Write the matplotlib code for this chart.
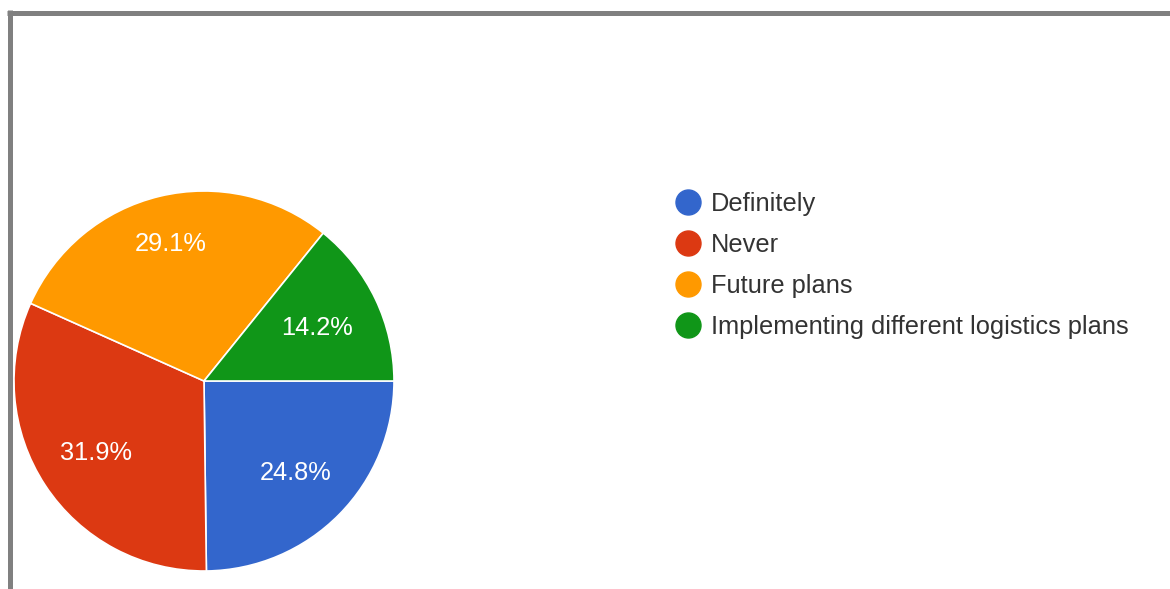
import numpy as np
import matplotlib.pyplot as plt
from matplotlib.lines import Line2D

# survey answers
labels = ["Definitely", "Never", "Future plans", "Implementing different logistics plans"]
shares = [24.8, 31.9, 29.1, 14.2]
colors = ["#3366cc", "#dc3912", "#ff9900", "#109618"]
label_dist = [0.68, 0.68, 0.75, 0.66]

W, H = 1170, 589
fig = plt.figure(figsize=(W / 100, H / 100), dpi=100)
ax = fig.add_axes([0, 0, 1, 1])
ax.set_axis_off()

wedges, _ = ax.pie(shares, colors=colors, startangle=0, counterclock=False,
                   center=(204, H - 381), radius=190,
                   wedgeprops=dict(edgecolor="white", linewidth=1.2))
ax.set_xlim(0, W)
ax.set_ylim(0, H)
ax.set_aspect("auto")

# percentage labels along each slice's middle angle
for w, v, d in zip(wedges, shares, label_dist):
    mid = np.deg2rad((w.theta1 + w.theta2) / 2)
    cx, cy = w.center
    ax.text(cx + d * w.r * np.cos(mid), cy + d * w.r * np.sin(mid) - 1.5, f"{v}%",
            ha="center", va="center", color="white", fontsize=18.3,
            family="Liberation Sans")

handles = [Line2D([], [], marker="o", linestyle="none", markersize=18,
                  markerfacecolor=c, markeredgecolor=c) for c in colors]
leg = ax.legend(handles, labels, loc="upper left",
                bbox_to_anchor=(668 / W, 1 - 192 / H), frameon=False,
                prop=dict(family="Liberation Sans", size=18.3),
                handletextpad=0.1, labelspacing=0.67, handlelength=1.6,
                borderpad=0, borderaxespad=0)
for t in leg.get_texts():
    t.set_color("#333333")

# gray frame along the top and left edges
fig.add_artist(Line2D([7 / W, 1], [1 - 12.5 / H, 1 - 12.5 / H], color="#808080",
                      linewidth=3.6, transform=fig.transFigure, solid_capstyle="butt"))
fig.add_artist(Line2D([9.5 / W, 9.5 / W], [1 - 10 / H, 0], color="#808080",
                      linewidth=3.6, transform=fig.transFigure, solid_capstyle="butt"))

fig.savefig("out.png", dpi=100)
